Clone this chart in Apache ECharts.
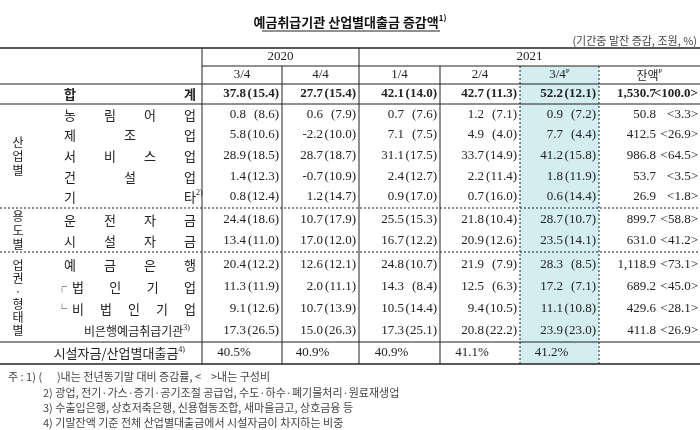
<!DOCTYPE html>
<html><head><meta charset="utf-8">
<script src="https://cdn.jsdelivr.net/npm/echarts@6/dist/echarts.min.js"></script>
<style>html,body{margin:0;padding:0;background:#fff}#c{width:700px;height:430px}</style>
</head><body><div id="c"></div>
<script>
const title = '예금취급기관 산업별대출금 증감액';
const unitNote = '(기간중 말잔 증감, 조원, %)';
const years = ['2020', '2021'];
const quarters = ['3/4', '4/4', '1/4', '2/4', '3/4', '잔액'];
const rowLabels = ['농림어업','제조업','서비스업','건설업','기타','운전자금','시설자금','예금은행','법인기업','비법인기업','비은행예금취급기관'];
const groupLabels = ['산업별','용도별','업권·형태별'];
const totalVals = [[37.8,15.4],[27.7,15.4],[42.1,14.0],[42.7,11.3],[52.2,12.1]];
const totalBal = [1530.7, 100.0];
const rowVals = [
 [[0.8,8.6],[0.6,7.9],[0.7,7.6],[1.2,7.1],[0.9,7.2]],
 [[5.8,10.6],[-2.2,10.0],[7.1,7.5],[4.9,4.0],[7.7,4.4]],
 [[28.9,18.5],[28.7,18.7],[31.1,17.5],[33.7,14.9],[41.2,15.8]],
 [[1.4,12.3],[-0.7,10.9],[2.4,12.7],[2.2,11.4],[1.8,11.9]],
 [[0.8,12.4],[1.2,14.7],[0.9,17.0],[0.7,16.0],[0.6,14.4]],
 [[24.4,18.6],[10.7,17.9],[25.5,15.3],[21.8,10.4],[28.7,10.7]],
 [[13.4,11.0],[17.0,12.0],[16.7,12.2],[20.9,12.6],[23.5,14.1]],
 [[20.4,12.2],[12.6,12.1],[24.8,10.7],[21.9,7.9],[28.3,8.5]],
 [[11.3,11.9],[2.0,11.1],[14.3,8.4],[12.5,6.3],[17.2,7.1]],
 [[9.1,12.6],[10.7,13.9],[10.5,14.4],[9.4,10.5],[11.1,10.8]],
 [[17.3,26.5],[15.0,26.3],[17.3,25.1],[20.8,22.2],[23.9,23.0]]
];
const rowBal = [[50.8,3.3],[412.5,26.9],[986.8,64.5],[53.7,3.5],[26.9,1.8],[899.7,58.8],[631.0,41.2],[1118.9,73.1],[689.2,45.0],[429.6,28.1],[411.8,26.9]];
const ratioLabel = '시설자금/산업별대출금';
const ratioVals = [40.5, 40.9, 40.9, 41.1, 41.2];
const footnotes = ['주 : 1) (      )내는 전년동기말 대비 증감률, <    >내는 구성비',
 '2) 광업, 전기·가스·증기·공기조절 공급업, 수도·하수·폐기물처리·원료재생업',
 '3) 수출입은행, 상호저축은행, 신용협동조합, 새마을금고, 상호금융 등',
 '4) 기말잔액 기준 전체 산업별대출금에서 시설자금이 차지하는 비중'];

const colX = [202, 282, 359, 440, 520, 599, 700];
const rowY = [115,135,156,177,197,220,241,265,287,309,331];
const groupRange = [[0,4],[5,6],[7,10]];
const NUM = '"Liberation Serif", "Noto Serif", serif';
const KR = '"Noto Sans CJK KR", sans-serif';
const g = [];
function txt(x,y,s,o){g.push({type:'text',x,y,style:Object.assign({text:s,fill:'#222',font:'13px '+NUM,align:'center',verticalAlign:'middle'},o||{}),z:10});}
function line(x1,y1,x2,y2,w,dash){g.push({type:'line',shape:{x1,y1,x2,y2},style:{stroke:'#222',lineWidth:w||1,lineDash:dash||null},z:5});}
const fmt = v => (v<0?'-':'')+Math.abs(v).toFixed(1);
const fmtBig = v => v.toFixed(1).replace(/\B(?=(\d{3})+(?!\d))/g, ',');

g.push({type:'rect',shape:{x:colX[4],y:66,width:colX[5]-colX[4],height:298},style:{fill:'#d3edf0'},z:1});
line(colX[4],66,colX[4],364,1,[2,2]);line(colX[5],66,colX[5],364,1,[2,2]);

g.push({type:'text',x:350,y:22,style:{text:'{t|'+title+'}{s|1)}',align:'center',verticalAlign:'middle',rich:{t:{font:'bold 13px '+KR,fill:'#111'},s:{font:'bold 8px '+KR,fill:'#111',verticalAlign:'top',padding:[0,0,8,0]}}},z:10});
line(262,31,440,31,1);
txt(697,41,unitNote,{align:'right',font:'11px '+KR,fill:'#444'});

line(0,48,700,48,1.5);
line(202,66,700,66,1);
line(0,84,700,84,1.2);
line(0,104,700,104,1.2);
line(0,208,700,208,1,[2,2]);
line(0,252,700,252,1,[2,2]);
line(0,342,700,342,1);
line(0,364,700,364,1.5);
[202,359].forEach(x=>line(x,48,x,364,1));
[282,440].forEach(x=>line(x,66,x,364,1));

txt((202+359)/2,57,years[0]);txt((359+700)/2,57,years[1]);
quarters.forEach((q,i)=>{
  const cx=(colX[i]+colX[i+1])/2;
  if(i>=4){g.push({type:'text',x:cx,y:75,style:{text:'{a|'+q+'}{s|P}',align:'center',verticalAlign:'middle',rich:{a:{font:(i==5?'12px '+KR:'13px '+NUM),fill:'#222'},s:{font:'7px '+NUM,fill:'#222',verticalAlign:'top',padding:[0,0,7,0]}}},z:10});}
  else txt(cx,75,q);
});

txt(70,94,'합',{font:'bold 13px '+KR});txt(190,94,'계',{font:'bold 13px '+KR});
function dataRow(y,vals,bal,bold){
  const f=(bold?'bold ':'')+'13px '+NUM;
  vals.forEach((v,i)=>{
    const r=colX[i+1]-3;
    txt(r-33,y,fmt(v[0]),{align:'right',font:f});
    txt(r,y,'('+v[1].toFixed(1)+')',{align:'right',font:f});
  });
  txt(656,y,fmtBig(bal[0]),{align:'right',font:f});
  txt(698,y,'<'+bal[1].toFixed(1)+'>',{align:'right',font:f});
}
dataRow(94,totalVals,totalBal,true);

function spread(y,s,x0,x1,opt){const ch=[...s];const n=ch.length;ch.forEach((c,i)=>txt(n==1?x0:x0+(x1-x0)*i/(n-1),y,c,Object.assign({font:'13px '+KR},opt||{})));}
rowLabels.forEach((l,i)=>{
  const y=rowY[i];
  if(i<=7) spread(y,l,70,190);
  else if(i==8){txt(62,y,'┌',{font:'10px '+KR});spread(y,l,78,190);}
  else if(i==9){txt(62,y,'└',{font:'10px '+KR});spread(y,l,78,190);}
  else g.push({type:'text',x:190,y,style:{text:'{a|'+l+'}{s|3)}',align:'right',verticalAlign:'middle',rich:{a:{font:'12px '+KR,fill:'#222'},s:{font:'8px '+NUM,fill:'#222',verticalAlign:'top',padding:[0,0,7,0]}}},z:10});
});
g.push({type:'text',x:196,y:193,style:{text:'2)',font:'8px '+NUM,fill:'#222',align:'left',verticalAlign:'middle'},z:10});
groupLabels.forEach((l,k)=>{
  const [a,b]=groupRange[k];const cy=(rowY[a]+rowY[b])/2;
  txt(18,cy,[...l].join('\n'),{font:'12px '+KR,lineHeight:k==2?13:14});
});
rowVals.forEach((v,i)=>dataRow(rowY[i],v,rowBal[i],false));

g.push({type:'text',x:185,y:353,style:{text:'{a|'+ratioLabel+'}{s|4)}',align:'right',verticalAlign:'middle',rich:{a:{font:'13px '+KR,fill:'#222'},s:{font:'8px '+NUM,fill:'#222',verticalAlign:'top',padding:[0,0,7,0]}}},z:10});
ratioVals.forEach((v,i)=>txt((colX[i]+colX[i+1])/2-8,353,v.toFixed(1)+'%'));

const fy=[377,393,408,423];
footnotes.forEach((f,i)=>txt(i==0?8:43,fy[i],f,{align:'left',font:'11px '+KR,fill:'#444'}));

const chart=echarts.init(document.getElementById('c'));
chart.setOption({animation:false,graphic:{elements:g}});
</script></body></html>
